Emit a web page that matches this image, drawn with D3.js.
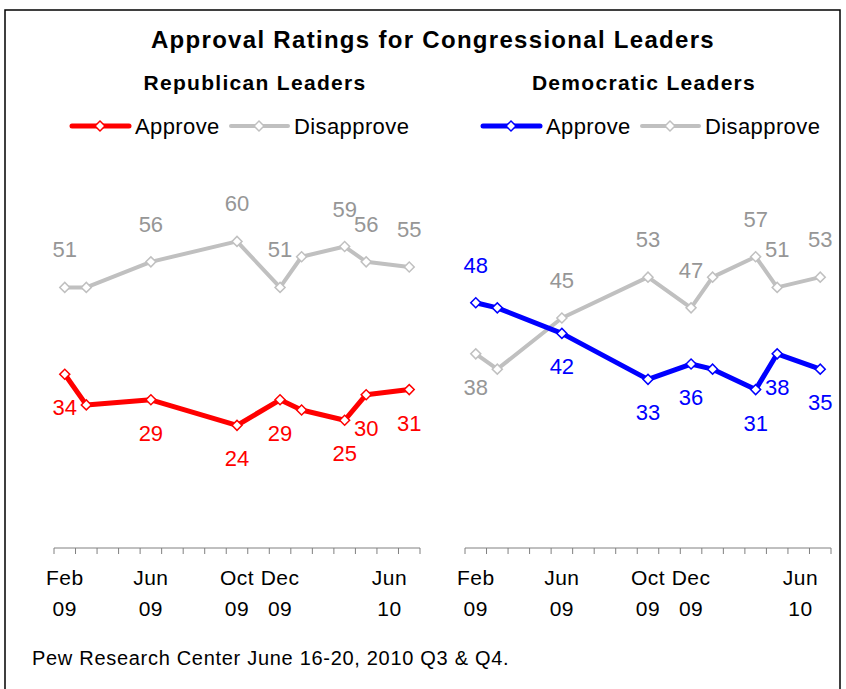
<!DOCTYPE html>
<html>
<head>
<meta charset="utf-8">
<script src="https://cdn.jsdelivr.net/npm/d3@7"></script>
<style>
  body { margin: 0; background: #fff; }
  text { font-family: Arial, "Liberation Sans", sans-serif; }
</style>
</head>
<body>
<script>
// months on the category axis, Feb 09 .. Jun 10
const months = ["Feb 09","Mar 09","Apr 09","May 09","Jun 09","Jul 09","Aug 09","Sep 09",
  "Oct 09","Nov 09","Dec 09","Jan 10","Feb 10","Mar 10","Apr 10","May 10","Jun 10"];
const tickMonths = ["Feb 09","Jun 09","Oct 09","Dec 09","Jun 10"];

// survey dates
const surveys = ["Feb 09","Mar 09","Jun 09","Oct 09","Dec 09","Jan 10","Mar 10","Apr 10","Jun 10"];

const repApprove    = [34, 28, 29, 24, 29, 27, 25, 30, 31];
const repDisapprove = [51, 51, 56, 60, 51, 57, 59, 56, 55];
const demApprove    = [48, 47, 42, 33, 36, 35, 31, 38, 35];
const demDisapprove = [38, 35, 45, 53, 47, 53, 57, 51, 53];

// where each value label sits (null = no label)
const repApproveLab    = ["below", null, "below", "below", "below", null, "below", "below", "below"];
const repDisapproveLab = ["above", null, "above", "above", "above", null, "above", "above", "above"];
const demApproveLab    = ["above", null, "below", "below", "below", null, "below", "below", "below"];
const demDisapproveLab = ["below", null, "above", "above", "above", null, "above", "above", "above"];

const W = 846, H = 689;
const gray = "#c0c0c0", grayText = "#969696";

const svg = d3.select("body").append("svg")
    .attr("width", W)
    .attr("height", H);

// outer frame
svg.append("rect")
    .attr("x", 5).attr("y", 10)
    .attr("width", 835).attr("height", 690)
    .attr("fill", "none")
    .attr("stroke", "#000")
    .attr("stroke-width", 1.5);

svg.append("text")
    .attr("x", 433).attr("y", 48)
    .attr("text-anchor", "middle")
    .style("font-size", "24px")
    .style("font-weight", "bold")
    .style("letter-spacing", "1.3px")
    .text("Approval Ratings for Congressional Leaders");

svg.append("text")
    .attr("x", 32).attr("y", 665)
    .style("font-size", "20px")
    .style("letter-spacing", "0.7px")
    .text("Pew Research Center June 16-20, 2010 Q3 & Q4.");

var yScale = d3.scaleLinear().domain([0, 100]).range([548, 37]);

const panels = [
  {title: "Republican Leaders", titleX: 255, left: 54, right: 420, color: "#ff0000",
   series: [
     {name: "Disapprove", values: repDisapprove, labels: repDisapproveLab, color: gray, textColor: grayText, width: 4},
     {name: "Approve", values: repApprove, labels: repApproveLab, color: "#ff0000", textColor: "#ff0000", width: 5}
   ]},
  {title: "Democratic Leaders", titleX: 644, left: 465, right: 831, color: "#0000ff",
   series: [
     {name: "Disapprove", values: demDisapprove, labels: demDisapproveLab, color: gray, textColor: grayText, width: 4},
     {name: "Approve", values: demApprove, labels: demApproveLab, color: "#0000ff", textColor: "#0000ff", width: 5}
   ]}
];

// square marker turned 45 degrees
var marker = d3.symbol().type(d3.symbolSquare).size(50);

panels.forEach(function(p) {
    var g = svg.append("g");
    var xScale = d3.scaleBand().domain(months).range([p.left, p.right]).padding(0);
    var cx = function(m) { return xScale(m) + xScale.bandwidth() / 2; };
    var y0 = yScale(0);

    g.append("text")
        .attr("x", p.titleX).attr("y", 90)
        .attr("text-anchor", "middle")
        .style("font-size", "21px")
        .style("font-weight", "bold")
        .style("letter-spacing", "1.3px")
        .text(p.title);

    // legend
    var leg = g.append("g").attr("transform", "translate(" + (p.left + 18) + ",126)");
    var legItems = [
      {name: "Approve", color: p.color, x: 0, w: 5},
      {name: "Disapprove", color: gray, x: 159, w: 4}
    ];
    legItems.forEach(function(d) {
        leg.append("line")
            .attr("x1", d.x).attr("x2", d.x + 57)
            .attr("y1", 0).attr("y2", 0)
            .attr("stroke", d.color)
            .attr("stroke-width", d.w)
            .attr("stroke-linecap", "round");
        leg.append("path")
            .attr("d", marker)
            .attr("transform", "translate(" + (d.x + 28) + ",0) rotate(45)")
            .attr("fill", "#fff")
            .attr("stroke", d.color)
            .attr("stroke-width", 1.5);
        leg.append("text")
            .attr("x", d.x + 63).attr("y", 8)
            .style("font-size", "22px")
            .style("letter-spacing", "0.4px")
            .text(d.name);
    });

    // x axis: line with ticks at month boundaries
    g.append("line")
        .attr("x1", p.left).attr("x2", p.right)
        .attr("y1", y0).attr("y2", y0)
        .attr("stroke", "#808080").attr("stroke-width", 1);
    var edges = months.map(function(m) { return xScale(m); }).concat([p.right]);
    g.selectAll(".tick").data(edges).enter().append("line")
        .attr("class", "tick")
        .attr("x1", function(d) { return d; }).attr("x2", function(d) { return d; })
        .attr("y1", y0).attr("y2", y0 + 6)
        .attr("stroke", "#808080").attr("stroke-width", 1);

    var labs = g.selectAll(".xlab").data(tickMonths).enter().append("text")
        .attr("class", "xlab")
        .attr("text-anchor", "middle")
        .style("font-size", "21px")
        .style("letter-spacing", "0.5px");
    labs.append("tspan")
        .attr("y", y0 + 37)
        .text(function(d) { return d.split(" ")[0]; });
    labs.append("tspan")
        .attr("y", y0 + 68)
        .text(function(d) { return d.split(" ")[1]; });
    labs.each(function(d) {
        var t = d3.select(this);
        var half = this.getBBox().width / 2;
        var x = Math.min(cx(d), p.right + 2 - half);
        t.selectAll("tspan").attr("x", x);
    });

    var line = d3.line()
        .x(function(d) { return cx(d.m); })
        .y(function(d) { return yScale(d.v); });

    p.series.forEach(function(s) {
        var pts = s.values.map(function(v, i) { return {m: surveys[i], v: v, lab: s.labels[i]}; });
        g.append("path")
            .datum(pts)
            .attr("d", line)
            .attr("fill", "none")
            .attr("stroke", s.color)
            .attr("stroke-width", s.width)
            .attr("stroke-linejoin", "round");
        g.selectAll(".pt-" + s.name).data(pts).enter().append("path")
            .attr("d", marker)
            .attr("transform", function(d) { return "translate(" + cx(d.m) + "," + yScale(d.v) + ") rotate(45)"; })
            .attr("fill", "#fff")
            .attr("stroke", s.color)
            .attr("stroke-width", 1.5);
        g.selectAll(".lab-" + s.name).data(pts.filter(function(d) { return d.lab; })).enter().append("text")
            .attr("x", function(d) { return cx(d.m); })
            .attr("y", function(d) { return yScale(d.v) + (d.lab === "above" ? -30 : 41); })
            .attr("text-anchor", "middle")
            .attr("fill", s.textColor)
            .style("font-size", "22px")
            .text(function(d) { return d.v; });
    });
});
</script>
</body>
</html>
